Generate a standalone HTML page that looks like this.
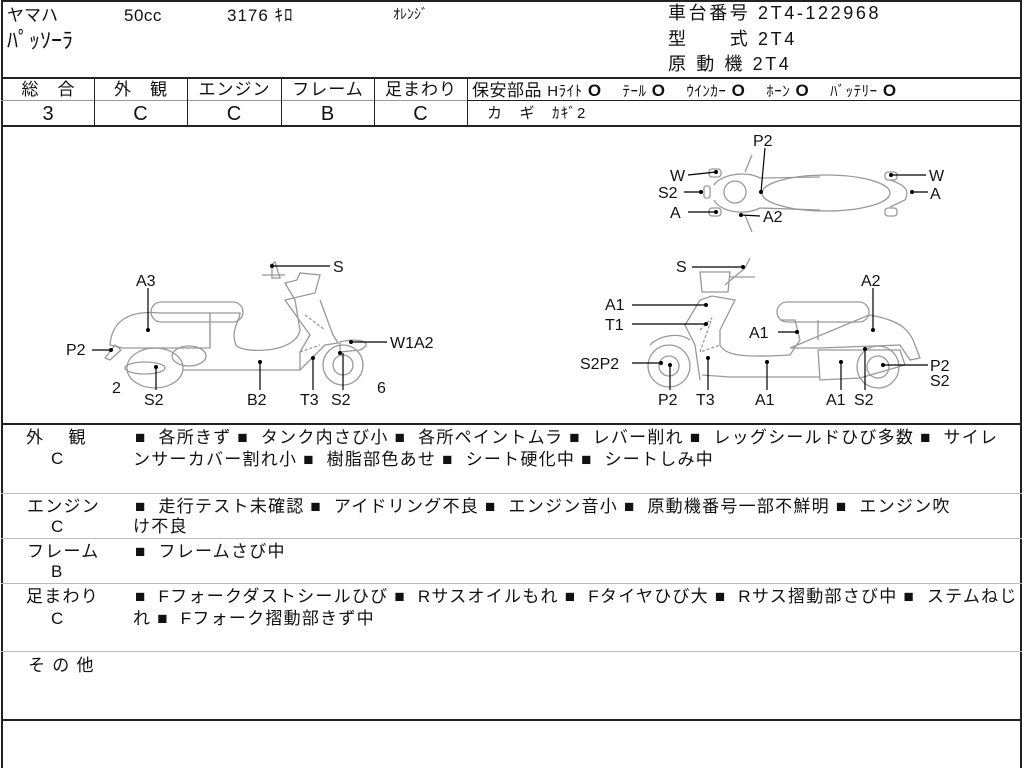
<!DOCTYPE html>
<html><head><meta charset="utf-8"><style>
body{margin:0;background:#fff;}
#p{position:relative;width:1024px;height:768px;overflow:hidden;font-family:"Liberation Sans","Noto Sans CJK JP",sans-serif;color:#111;}
.t{position:absolute;white-space:nowrap;font-size:17px;line-height:19px;letter-spacing:1.25px;}
.h{position:absolute;background:#222;}
.g{position:absolute;background:#bbb;}
.c{position:absolute;text-align:center;font-size:17px;line-height:18px;letter-spacing:1px;}
</style></head><body><div id="p">
<div class="h" style="left:1px;top:0;width:2px;height:768px"></div>
<div class="h" style="left:1020px;top:0;width:2px;height:768px"></div>
<div class="h" style="left:1px;top:0;width:1021px;height:2px"></div>
<div class="h" style="left:1px;top:77px;width:1021px;height:2px"></div>
<div class="h" style="left:1px;top:125px;width:1021px;height:2px"></div>
<div class="h" style="left:467px;top:100px;width:555px;height:1px"></div>
<div class="h" style="left:1px;top:100px;width:466px;height:1px;background:#999"></div>
<div class="h" style="left:94px;top:78px;width:1px;height:48px"></div>
<div class="h" style="left:187px;top:78px;width:1px;height:48px"></div>
<div class="h" style="left:281px;top:78px;width:1px;height:48px"></div>
<div class="h" style="left:374px;top:78px;width:1px;height:48px"></div>
<div class="h" style="left:467px;top:78px;width:1px;height:48px"></div>
<div class="h" style="left:1px;top:423px;width:1021px;height:2px"></div>
<div class="g" style="left:1px;top:493px;width:1021px;height:1px"></div>
<div class="g" style="left:1px;top:538px;width:1021px;height:1px"></div>
<div class="g" style="left:1px;top:583px;width:1021px;height:1px"></div>
<div class="g" style="left:1px;top:651px;width:1021px;height:1px"></div>
<div class="h" style="left:1px;top:719px;width:1021px;height:2px"></div>

<div class="t" style="left:7px;top:6px;font-size:17px;letter-spacing:0">ヤマハ</div>
<div class="t" style="left:124px;top:6px;letter-spacing:0.5px">50cc</div>
<div class="t" style="left:227px;top:6px;letter-spacing:1px">3176 ｷﾛ</div>
<div class="t" style="left:393px;top:5px;font-size:14px;letter-spacing:0">ｵﾚﾝｼﾞ</div>
<div class="t" style="left:7px;top:29px;font-size:22px;line-height:24px;letter-spacing:0">ﾊﾟｯｿｰﾗ</div>
<div class="t" style="left:668px;top:4px;font-size:18px;letter-spacing:2.6px">車台番号 2T4-122968</div>
<div class="t" style="left:668px;top:30px;font-size:18px;letter-spacing:2.6px">型　　式 2T4</div>
<div class="t" style="left:668px;top:55px;font-size:18px;letter-spacing:2.6px">原 動 機 2T4</div>

<div class="c" style="left:3px;top:81px;width:91px">総　合</div>
<div class="c" style="left:95px;top:81px;width:92px">外　観</div>
<div class="c" style="left:188px;top:81px;width:93px">エンジン</div>
<div class="c" style="left:282px;top:81px;width:92px">フレーム</div>
<div class="c" style="left:375px;top:81px;width:92px">足まわり</div>
<div class="c" style="left:3px;top:103px;width:91px;font-size:20px;line-height:22px">3</div>
<div class="c" style="left:95px;top:103px;width:92px;font-size:20px;line-height:22px">C</div>
<div class="c" style="left:188px;top:103px;width:93px;font-size:20px;line-height:22px">C</div>
<div class="c" style="left:282px;top:103px;width:92px;font-size:20px;line-height:22px">B</div>
<div class="c" style="left:375px;top:103px;width:92px;font-size:20px;line-height:22px">C</div>
<div class="t" style="left:472px;top:81px;letter-spacing:0.5px">保安部品 <span style="font-size:15px">Hﾗｲﾄ</span> <b>O</b>&nbsp;&nbsp;&nbsp; <span style="font-size:15px">ﾃｰﾙ</span> <b>O</b>&nbsp;&nbsp;&nbsp; <span style="font-size:15px">ｳｲﾝｶｰ</span> <b>O</b>&nbsp;&nbsp;&nbsp; <span style="font-size:15px">ﾎｰﾝ</span> <b>O</b>&nbsp;&nbsp;&nbsp; <span style="font-size:15px">ﾊﾞｯﾃﾘｰ</span> <b>O</b></div>
<div class="t" style="left:487px;top:104px;font-size:15px">カ　ギ　ｶｷﾞ2</div>

<svg style="position:absolute;left:0;top:0" width="1024" height="768" font-family="Liberation Sans, sans-serif" font-size="16">
<g fill="none" stroke="#999" stroke-width="1.3">
<rect x="151" y="302" width="92" height="20" rx="10"/>
<path d="M110 345 C112 320 130 310 160 313 L210 313 L210 348 L123 348 Z"/>
<path d="M105 358 L115 345 L121 350 L110 360 Z"/>
<ellipse cx="155" cy="368" rx="28" ry="20"/>
<ellipse cx="145" cy="368" rx="20" ry="6"/>
<ellipse cx="189" cy="356" rx="17" ry="10"/>
<path d="M183 370 L300 370 L300 352 L310 335 L285 300 L315 293 L320 275 L300 273 L297 280 L285 283 L295 300 L300 330 C295 355 240 353 236 345 C230 330 240 320 240 313 L210 313"/>
<path d="M320 300 L333 335 L338 343 L325 345 L310 360 L300 370" />
<path d="M340 342 C360 337 375 343 360 350 L340 352 Z"/>
<circle cx="343" cy="365" r="20"/><circle cx="343" cy="365" r="10"/>
<path d="M272 264 L275 262 L280 278 L272 278 Z"/>
<path d="M262 275 L285 275"/>
<path d="M210 313 L210 348 M305 315 L325 330 M300 352 L320 345" stroke-dasharray="3 2"/>
<ellipse cx="826" cy="193" rx="64" ry="18"/>
<path d="M714 185 C720 175 745 170 760 178 L820 177 M714 200 C720 212 745 216 760 208 L820 210 M890 180 C905 185 910 190 905 200 L890 207"/>
<circle cx="735" cy="192" r="11"/>
<path d="M745 172 L752 155 M745 215 L752 232"/>
<rect x="709" y="169" width="12" height="8" rx="3"/><rect x="709" y="208" width="12" height="8" rx="3"/>
<rect x="885" y="172" width="12" height="8" rx="3"/><rect x="885" y="208" width="12" height="8" rx="3"/>
<rect x="704" y="186" width="6" height="12" rx="2"/>
<rect x="777" y="302" width="92" height="20" rx="10"/>
<path d="M818 340 L818 320 M869 315 C900 320 910 330 915 345 L920 358 L910 360 L900 345 L820 348 L790 348 Z"/>
<path d="M818 350 L900 350 L905 365 L860 378 L820 380 Z"/>
<circle cx="878" cy="367" r="21"/><circle cx="878" cy="367" r="11"/>
<circle cx="669" cy="366" r="21"/><circle cx="669" cy="366" r="10"/>
<path d="M650 345 C660 335 680 332 690 340 M702 375 L730 377 L820 377 M700 380 L695 345 L685 325 L700 300 L712 296 L735 300 L720 330 L720 345 C725 355 740 358 790 355 L800 340 L795 320 L780 320"/>
<path d="M700 272 L730 272 L728 292 L702 292 Z M725 285 L745 268 L750 258"/>
<path d="M730 277 L755 277"/>
<path d="M700 330 L712 318 L700 352 L720 345" stroke-dasharray="3 2"/>
</g>
<g fill="#000">
<circle cx="148" cy="330" r="2"/><circle cx="111" cy="350" r="2"/><circle cx="156" cy="367" r="2"/>
<circle cx="260" cy="362" r="2"/><circle cx="313" cy="358" r="2"/><circle cx="340" cy="353" r="2"/><circle cx="351" cy="342" r="2"/><circle cx="272" cy="266" r="2"/>
<circle cx="761" cy="192" r="2"/><circle cx="716" cy="172" r="2"/><circle cx="701" cy="192" r="2"/><circle cx="716" cy="212" r="2"/><circle cx="741" cy="215" r="2"/><circle cx="891" cy="175" r="2"/><circle cx="912" cy="192" r="2"/>
<circle cx="743" cy="267" r="2"/><circle cx="706" cy="305" r="2"/><circle cx="706" cy="324" r="2"/><circle cx="797" cy="332" r="2"/><circle cx="873" cy="330" r="2"/>
<circle cx="661" cy="363" r="2"/><circle cx="670" cy="365" r="2"/><circle cx="708" cy="358" r="2"/><circle cx="767" cy="362" r="2"/><circle cx="841" cy="362" r="2"/><circle cx="865" cy="349" r="2"/><circle cx="883" cy="365" r="2"/>
</g>
<g stroke="#000" stroke-width="1.2">
<path d="M148 288 L148 330 M92 350 L111 350 M156 367 L156 390 M260 362 L260 390 M313 358 L313 390 M343 353 L343 390 M351 342 L387 342 M272 266 L330 266"/>
<path d="M765 148 L761 192 M688 175 L716 172 M684 192 L701 192 M688 212 L716 212 M741 215 L760 216 M891 175 L926 175 M912 192 L928 192"/>
<path d="M692 267 L743 267 M632 305 L706 305 M632 324 L706 324 M778 332 L797 332 M873 288 L873 330 M632 363 L661 363 M670 365 L670 390 M708 358 L708 390 M767 362 L767 390 M841 362 L841 390 M865 349 L865 390 M883 365 L928 365"/>
</g>
<g fill="#111" font-size="16">
<text x="136" y="286">A3</text><text x="66" y="355">P2</text><text x="112" y="393">2</text><text x="144" y="405">S2</text>
<text x="247" y="405">B2</text><text x="300" y="405">T3</text><text x="331" y="405">S2</text><text x="377" y="393">6</text>
<text x="390" y="348">W1A2</text><text x="333" y="272">S</text>
<text x="753" y="146">P2</text><text x="670" y="181">W</text><text x="658" y="198">S2</text><text x="670" y="218">A</text><text x="763" y="222">A2</text>
<text x="929" y="181">W</text><text x="930" y="199">A</text>
<text x="676" y="272">S</text><text x="861" y="286">A2</text><text x="605" y="310">A1</text><text x="605" y="330">T1</text><text x="749" y="338">A1</text>
<text x="580" y="369">S2P2</text><text x="658" y="405">P2</text><text x="696" y="405">T3</text><text x="755" y="405">A1</text><text x="826" y="405">A1</text><text x="854" y="405">S2</text>
<text x="930" y="371">P2</text><text x="930" y="386">S2</text>
</g>
</svg>

<div class="t" style="left:26px;top:428px">外　 観</div>
<div class="t" style="left:51px;top:449px">C</div>
<div class="t" style="left:135px;top:428px">■&nbsp; 各所きず ■&nbsp; タンク内さび小 ■&nbsp; 各所ペイントムラ ■&nbsp; レバー削れ ■&nbsp; レッグシールドひび多数 ■&nbsp; サイレ</div>
<div class="t" style="left:133px;top:450px">ンサーカバー割れ小 ■&nbsp; 樹脂部色あせ ■&nbsp; シート硬化中 ■&nbsp; シートしみ中</div>
<div class="t" style="left:27px;top:497px">エンジン</div>
<div class="t" style="left:51px;top:517px">C</div>
<div class="t" style="left:135px;top:497px">■&nbsp; 走行テスト未確認 ■&nbsp; アイドリング不良 ■&nbsp; エンジン音小 ■&nbsp; 原動機番号一部不鮮明 ■&nbsp; エンジン吹</div>
<div class="t" style="left:133px;top:517px">け不良</div>
<div class="t" style="left:27px;top:542px">フレーム</div>
<div class="t" style="left:51px;top:562px">B</div>
<div class="t" style="left:135px;top:542px">■&nbsp; フレームさび中</div>
<div class="t" style="left:26px;top:587px">足まわり</div>
<div class="t" style="left:51px;top:609px">C</div>
<div class="t" style="left:135px;top:587px">■&nbsp; Fフォークダストシールひび ■&nbsp; Rサスオイルもれ ■&nbsp; Fタイヤひび大 ■&nbsp; Rサス摺動部さび中 ■&nbsp; ステムねじ</div>
<div class="t" style="left:133px;top:609px">れ ■&nbsp; Fフォーク摺動部きず中</div>
<div class="t" style="left:28px;top:656px">そ の 他</div>
</div></body></html>
